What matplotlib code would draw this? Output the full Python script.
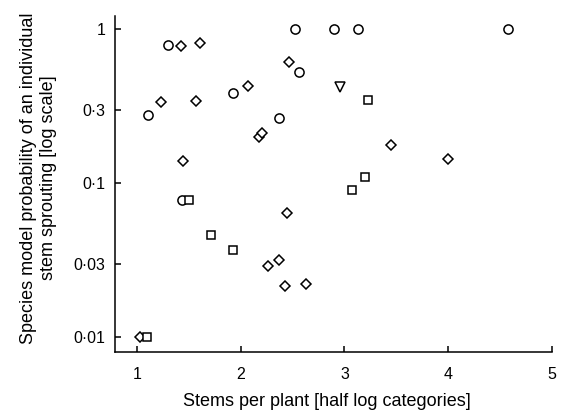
import matplotlib
matplotlib.use("Agg")
import matplotlib.pyplot as plt
from matplotlib.ticker import FixedLocator, NullLocator

plt.rcParams['font.family'] = ['Liberation Sans', 'DejaVu Sans']

# circles
circ_x = [1.296, 2.527, 2.899, 3.13, 4.572, 2.566, 1.928, 1.108, 2.367, 1.44]
circ_y = [0.784, 1.0, 1.0, 1.0, 1.0, 0.524, 0.385, 0.276, 0.266, 0.0776]
# diamonds
diam_x = [1.428, 1.607, 2.466, 2.069, 1.232, 1.569, 2.178, 2.21, 1.447, 3.447,
          4.002, 2.45, 2.267, 2.37, 2.431, 2.633, 1.027]
diam_y = [0.772, 0.807, 0.611, 0.425, 0.335, 0.340, 0.200, 0.211, 0.1395, 0.178,
          0.143, 0.0642, 0.0288, 0.0318, 0.0214, 0.0222, 0.01]
# squares
sq_x = [3.229, 3.2, 3.069, 1.498, 1.716, 1.928, 1.10]
sq_y = [0.347, 0.109, 0.0905, 0.0776, 0.0462, 0.037, 0.01]
# triangles (down)
tri_x = [2.96]
tri_y = [0.419]

yticks = [0.01, 0.03, 0.1, 0.3, 1]
yticklabels = ['0·01', '0·03', '0·1', '0·3', '1']
xticks = [1, 2, 3, 4, 5]
xticklabels = ['1', '2', '3', '4', '5']

fig = plt.figure(figsize=(5.7, 4.18), dpi=100)
ax = fig.add_axes([0.2018, 0.1579, 0.7666, 0.8038])

kw = dict(linestyle='none', markerfacecolor='white', markeredgecolor='black',
          markeredgewidth=1.1, clip_on=False)
ax.plot(circ_x, circ_y, marker='o', markersize=6.6, **kw)
ax.plot(diam_x, diam_y, marker='D', markersize=5.1, **kw)
ax.plot(sq_x, sq_y, marker='s', markersize=5.3, **kw)
ax.plot(tri_x, tri_y, marker='v', markersize=6.6, **kw)

ax.set_yscale('log')
ax.set_xlim(0.79, 5.0)
ax.set_ylim(0.00803, 1.214)
ax.yaxis.set_major_locator(FixedLocator(yticks))
ax.set_yticklabels(yticklabels)
ax.yaxis.set_minor_locator(NullLocator())
ax.set_xticks(xticks)
ax.set_xticklabels(xticklabels)

for s in ['top', 'right']:
    ax.spines[s].set_visible(False)
for s in ['left', 'bottom']:
    ax.spines[s].set_linewidth(1.1)

ax.tick_params(axis='both', direction='in', length=4, width=1.1, labelsize=11.5)
ax.tick_params(axis='y', pad=7)
ax.tick_params(axis='x', pad=11)

ax.set_xlabel('Stems per plant [half log categories]', fontsize=13, labelpad=8)
ax.set_ylabel('Species model probability of an individual\nstem sprouting [log scale]',
              fontsize=13, labelpad=12, linespacing=1.2)
ax.xaxis.label.set_x(0.485)
ax.yaxis.label.set_y(0.518)

fig.savefig('out.png', dpi=100)
